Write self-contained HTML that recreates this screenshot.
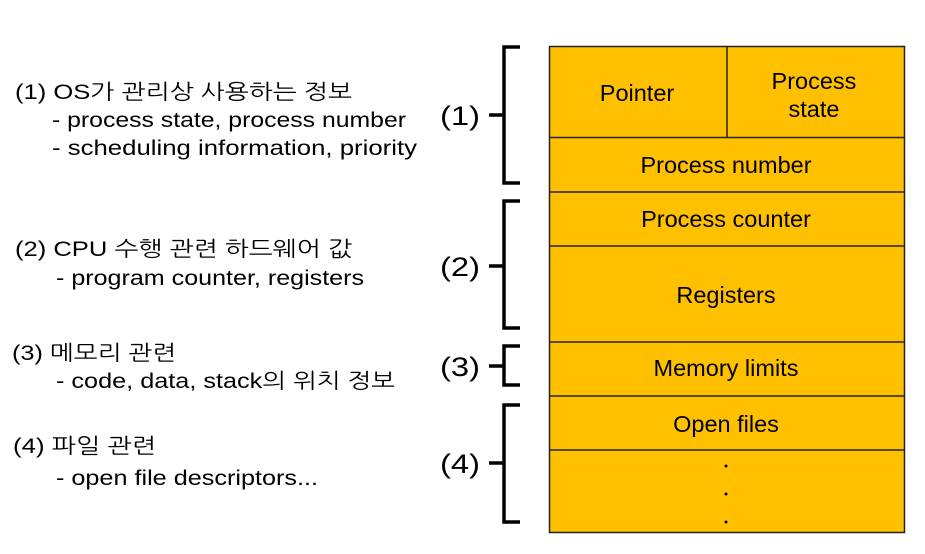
<!DOCTYPE html>
<html><head><meta charset="utf-8"><style>
html,body{margin:0;padding:0;background:#fff;}
svg{display:block;}
text{font-family:"Liberation Sans","NanumGothic","Noto Sans CJK KR",sans-serif;fill:#000;}
</style></head><body>
<svg width="925" height="554" viewBox="0 0 925 554" xmlns="http://www.w3.org/2000/svg">
<g font-size="21">
<text x="15" y="99" textLength="337" lengthAdjust="spacingAndGlyphs">(1) OS가 관리상 사용하는 정보</text>
<text x="52" y="127" textLength="354" lengthAdjust="spacingAndGlyphs">- process state, process number</text>
<text x="52" y="155" textLength="365" lengthAdjust="spacingAndGlyphs">- scheduling information, priority</text>
<text x="15" y="256" textLength="337" lengthAdjust="spacingAndGlyphs">(2) CPU 수행 관련 하드웨어 값</text>
<text x="56" y="285" textLength="308" lengthAdjust="spacingAndGlyphs">- program counter, registers</text>
<text x="12" y="360" textLength="164" lengthAdjust="spacingAndGlyphs">(3) 메모리 관련</text>
<text x="56" y="388" textLength="339" lengthAdjust="spacingAndGlyphs">- code, data, stack의 위치 정보</text>
<text x="13" y="453" textLength="143" lengthAdjust="spacingAndGlyphs">(4) 파일 관련</text>
<text x="56" y="485" textLength="262" lengthAdjust="spacingAndGlyphs">- open file descriptors...</text>
</g>
<g font-size="27">
<text x="440" y="125" textLength="40" lengthAdjust="spacingAndGlyphs">(1)</text>
<text x="440" y="276" textLength="40" lengthAdjust="spacingAndGlyphs">(2)</text>
<text x="440" y="376" textLength="40" lengthAdjust="spacingAndGlyphs">(3)</text>
<text x="440" y="473" textLength="40" lengthAdjust="spacingAndGlyphs">(4)</text>
</g>
<g fill="none" stroke="#000" stroke-width="3.5" stroke-linecap="butt">
<path d="M520,47 H504 V183 H520 M489,115 H504"/>
<path d="M520,201 H504 V328 H520 M489,266 H504"/>
<path d="M520,346 H504 V385 H520 M489,366 H504"/>
<path d="M520,405 H504 V522 H520 M489,463 H504"/>
</g>
<rect x="549.5" y="46.5" width="355" height="486" fill="#FFC000" stroke="#222" stroke-width="1.5"/>
<g stroke="#222" stroke-width="1.5">
<line x1="727" y1="46" x2="727" y2="137"/>
<line x1="549" y1="137.5" x2="905" y2="137.5"/>
<line x1="549" y1="192" x2="905" y2="192"/>
<line x1="549" y1="246" x2="905" y2="246"/>
<line x1="549" y1="342" x2="905" y2="342"/>
<line x1="549" y1="396" x2="905" y2="396"/>
<line x1="549" y1="450" x2="905" y2="450"/>
</g>
<g font-size="23.5" text-anchor="middle">
<text x="637" y="101">Pointer</text>
<text x="814" y="89">Process</text>
<text x="814" y="117">state</text>
<text x="726" y="173">Process number</text>
<text x="726" y="227">Process counter</text>
<text x="726" y="303">Registers</text>
<text x="726" y="376">Memory limits</text>
<text x="726" y="432">Open files</text>
</g>
<g fill="#000">
<circle cx="726" cy="466" r="1.5"/>
<circle cx="726" cy="494" r="1.5"/>
<circle cx="726" cy="522" r="1.5"/>
</g>
</svg>
</body></html>
